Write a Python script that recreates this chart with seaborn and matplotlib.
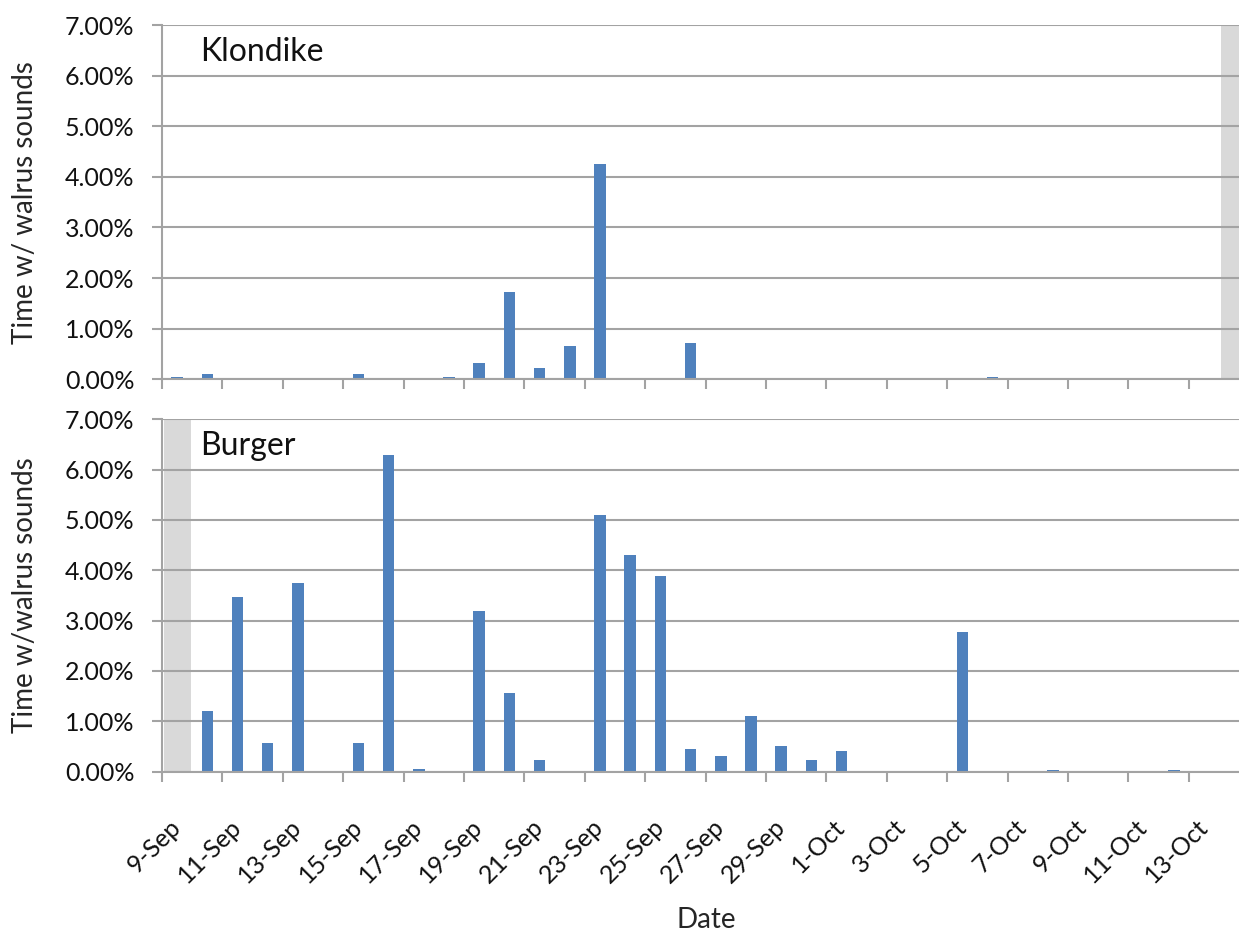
import numpy as np
import seaborn as sns
import matplotlib.pyplot as plt
from matplotlib.ticker import PercentFormatter

# one category per day, 9-Sep .. 14-Oct
dates = ["9-Sep", "10-Sep", "11-Sep", "12-Sep", "13-Sep", "14-Sep", "15-Sep",
         "16-Sep", "17-Sep", "18-Sep", "19-Sep", "20-Sep", "21-Sep", "22-Sep",
         "23-Sep", "24-Sep", "25-Sep", "26-Sep", "27-Sep", "28-Sep", "29-Sep",
         "30-Sep", "1-Oct", "2-Oct", "3-Oct", "4-Oct", "5-Oct", "6-Oct",
         "7-Oct", "8-Oct", "9-Oct", "10-Oct", "11-Oct", "12-Oct", "13-Oct",
         "14-Oct"]

# percent of time with walrus sounds
klondike = [0.05, 0.10, 0, 0, 0, 0, 0.10, 0, 0, 0.05, 0.33, 1.72, 0.22, 0.66,
            4.26, 0, 0, 0.72, 0, 0, 0, 0, 0, 0, 0, 0, 0, 0.05, 0, 0, 0, 0, 0,
            0, 0, 0]
burger = [0, 1.20, 3.47, 0.56, 3.75, 0, 0.56, 6.29, 0.05, 0, 3.20, 1.57, 0.23,
          0, 5.10, 4.31, 3.89, 0.46, 0.32, 1.10, 0.50, 0.23, 0.41, 0, 0, 0,
          2.77, 0, 0, 0.03, 0, 0, 0, 0.03, 0, 0]

# days without recordings (grey shading)
klondike_offline = ["14-Oct"]
burger_offline = ["9-Sep"]

BLUE = "#4f81bd"
SHADE = "#d9d9d9"
GRID = "#a3a3a3"
YMAX = 7

sns.set_style("white")
plt.rcParams['font.family'] = ['Lato', 'DejaVu Sans']
plt.rcParams['text.color'] = '#111111'
plt.rcParams['xtick.labelcolor'] = '#111111'
plt.rcParams['ytick.labelcolor'] = '#111111'

fig = plt.figure(figsize=(12.39, 9.34), dpi=100)
ax_top = fig.add_axes([0.1308, 0.5939, 0.8692, 0.3793])
ax_bot = fig.add_axes([0.1308, 0.1738, 0.8692, 0.3773])


def draw_panel(ax, values, offline, name, ylabel, show_labels):
    shade = [YMAX if d in offline else 0 for d in dates]
    sns.barplot(x=dates, y=shade, order=dates, color=SHADE, saturation=1,
                width=0.9, linewidth=0, errorbar=None, ax=ax, zorder=0.2)
    sns.barplot(x=dates, y=values, order=dates, color=BLUE, saturation=1,
                width=0.38, linewidth=0, errorbar=None, ax=ax, zorder=2)

    ax.set_xlim(-0.5, 35.16)
    ax.set_ylim(0, YMAX)
    ax.set_yticks(range(0, YMAX + 1))
    ax.yaxis.set_major_formatter(PercentFormatter(xmax=100, decimals=2))
    ax.set_axisbelow(True)
    ax.yaxis.grid(True, color=GRID, lw=1.5)
    ax.xaxis.grid(False)

    sns.despine(ax=ax, top=True, right=True)
    for side in ("left", "bottom"):
        ax.spines[side].set_color(GRID)
        ax.spines[side].set_linewidth(1.5)

    # tick marks between every second day, labels on the day itself
    ax.set_xticks(np.arange(-0.5, 34, 2))
    ax.set_xticklabels([])
    ax.tick_params(axis='x', which='major', length=7, width=1.5, color=GRID,
                   direction='out', bottom=True)
    ax.tick_params(axis='y', length=7, width=1.5, color=GRID, pad=13,
                   labelsize=18, left=True)
    if show_labels:
        ax.set_xticks(np.arange(0, 35, 2), labels=dates[0:35:2], minor=True)
        ax.tick_params(axis='x', which='minor', length=0, pad=37,
                       labelsize=18)
        for lbl in ax.get_xticklabels(minor=True):
            lbl.set_rotation(45)
            lbl.set_ha('right')
            lbl.set_va('center')
            lbl.set_rotation_mode('anchor')

    ax.set_xlabel("")
    ax.set_ylabel(ylabel, fontsize=20, va='center')
    ax.yaxis.set_label_coords(-0.127, 0.5)
    ax.text(0.035, 0.923, name, transform=ax.transAxes, fontsize=23,
            va='center', ha='left')


draw_panel(ax_top, klondike, klondike_offline, "Klondike",
           "Time w/ walrus sounds", False)
draw_panel(ax_bot, burger, burger_offline, "Burger",
           "Time w/walrus sounds", True)

ax_bot.set_xlabel("Date", fontsize=20)
ax_bot.xaxis.set_label_coords(0.5057, -0.421)
ax_bot.xaxis.label.set_va('center')

fig.savefig("out.png", dpi=100)
